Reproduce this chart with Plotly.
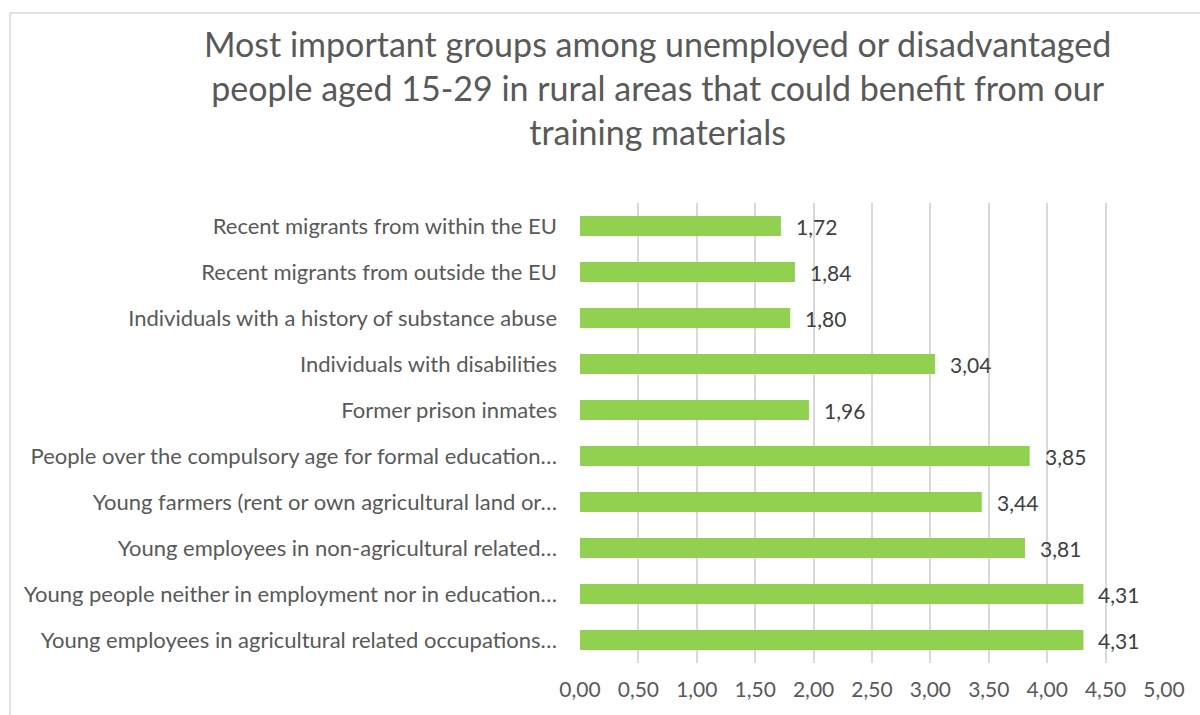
import plotly.graph_objects as go

# Survey results: mean rating per target group (top of chart first)
groups = [
    "Recent migrants from within the EU",
    "Recent migrants from outside the EU",
    "Individuals with a history of substance abuse",
    "Individuals with disabilities",
    "Former prison inmates",
    "People over the compulsory age for formal education…",
    "Young farmers (rent or own agricultural land or…",
    "Young employees in non-agricultural related…",
    "Young people neither in employment nor in education…",
    "Young employees in agricultural related occupations…",
]
scores = [1.72, 1.84, 1.80, 3.04, 1.96, 3.85, 3.44, 3.81, 4.31, 4.31]

x_ticks = [0, 0.5, 1, 1.5, 2, 2.5, 3, 3.5, 4, 4.5, 5]

title_text = ("Most important groups among unemployed or disadvantaged<br>"
              "people aged 15-29 in rural areas that could benefit from our<br>"
              "training materials")

W, H = 1200, 715
ML, MR, MT, MB = 580, 36, 203, 52
FONT = "Lato"
GREEN = "#92D050"
pw = W - ML - MR
ph = H - MT - MB

fig = go.Figure()
fig.add_trace(go.Bar(
    x=scores,
    y=groups,
    orientation="h",
    marker=dict(color=GREEN, line=dict(width=0)),
    hoverinfo="x+y",
))

# value labels to the right of each bar
for g, v in zip(groups, scores):
    fig.add_annotation(
        x=v, y=g, text=f"{v:.2f}".replace(".", ","),
        showarrow=False, xanchor="left", xshift=13,
        font=dict(family=FONT, size=21, color="#404040"),
    )

# chart title
fig.add_annotation(
    text=title_text, xref="paper", yref="paper",
    x=(657 - ML) / pw, xanchor="center",
    y=(H - MB - 21) / ph, yanchor="top",
    showarrow=False, align="center",
    font=dict(family=FONT, size=34, color="#595959"),
)

# outer chart frame
fig.add_shape(
    type="rect", xref="paper", yref="paper",
    x0=(10 - ML) / pw, x1=(W + 5 - ML) / pw,
    y0=-(MB + 5) / ph, y1=(H - 13 - MB) / ph,
    line=dict(color="#D9D9D9", width=1.5), fillcolor="rgba(0,0,0,0)",
    layer="below",
)

fig.update_layout(
    width=W, height=H,
    margin=dict(l=ML, r=MR, t=MT, b=MB),
    paper_bgcolor="white", plot_bgcolor="white",
    separators=", ",
    bargap=0.565,
    showlegend=False,
    xaxis=dict(
        range=[0, 5], tickvals=x_ticks, tickformat=".2f",
        showgrid=True, gridcolor="#D9D9D9", gridwidth=1.5,
        zeroline=False, showline=False, ticks="",
        tickfont=dict(family=FONT, size=21, color="#595959"),
        ticklabelstandoff=12, fixedrange=True,
    ),
    yaxis=dict(
        categoryorder="array", categoryarray=groups[::-1],
        showgrid=False, zeroline=False, showline=False, ticks="",
        tickfont=dict(family=FONT, size=22, color="#595959"),
        ticklabelstandoff=22, fixedrange=True,
    ),
)

fig.write_html("out.html")
